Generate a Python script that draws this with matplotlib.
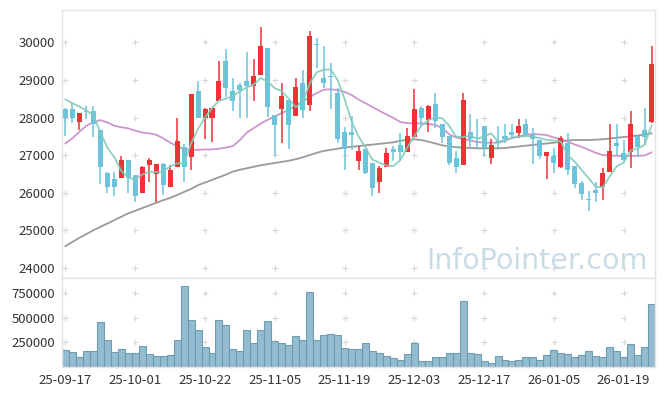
import numpy as np
import matplotlib
matplotlib.use('Agg')
import matplotlib.pyplot as plt

plt.rcParams['font.family'] = ['Noto Sans CJK KR', 'DejaVu Sans']

# trading days (yy-mm-dd), one per candle
dates = (
    ['25-09-%02d' % d for d in [17, 18, 19, 22, 23, 24, 25, 26, 29, 30]]
    + ['25-10-%02d' % d for d in [1, 2, 10, 13, 14, 15, 16, 17, 20, 21, 22, 23, 24, 27, 28, 29, 30, 31]]
    + ['25-11-%02d' % d for d in [3, 4, 5, 6, 7, 10, 11, 12, 13, 14, 17, 18, 19, 20, 21, 24, 25, 26, 27, 28]]
    + ['25-12-%02d' % d for d in [1, 2, 3, 4, 5, 8, 9, 10, 11, 12, 15, 16, 17, 18, 19, 22, 23, 24, 26, 29, 30]]
    + ['26-01-%02d' % d for d in [2, 5, 6, 7, 8, 9, 12, 13, 14, 15, 16, 19, 20, 21, 22, 23]]
)

opens = [28230, 28230, 27890, 28180, 28170, 27670, 26520, 26370, 26400, 26870,
         26470, 26000, 26740, 26500, 26760, 26160, 26690, 27210, 26960, 28710,
         28000, 28000, 28450, 29500, 28710, 28870, 28970, 28850, 29130, 29840,
         28070, 28220, 28470, 28050, 28930, 28330, 29960, 29040, 29100, 28640,
         27610, 27610, 26850, 27150, 26800, 26290, 26690, 27150, 27270, 27090,
         27490, 28250, 27930, 28360, 27830, 27510, 26920, 26740, 27610, 27450,
         27780, 26920, 27380, 27510, 27610, 27600, 27830, 27540, 27390, 26980,
         26980, 26690, 27310, 26710, 26250, 25820, 26070, 26160, 26560, 27310,
         27050, 27090, 27510, 27670, 27890]
highs = [28250, 28400, 28110, 28300, 28300, 27670, 26560, 26560, 26980, 26870,
         26470, 26720, 26930, 26760, 26800, 26740, 28000, 27300, 28630, 28970,
         28250, 28250, 29490, 29810, 29040, 28930, 29750, 29550, 30400, 29840,
         28070, 28930, 28470, 29040, 29260, 30300, 30110, 29900, 29440, 28780,
         27760, 28040, 27240, 27150, 26800, 26710, 27200, 27230, 27600, 27710,
         28750, 28310, 28330, 28660, 27830, 27510, 27120, 28640, 28100, 27950,
         27780, 27420, 27780, 27830, 27830, 27950, 27950, 27710, 27390, 27070,
         27180, 27510, 27600, 26710, 26320, 26050, 26290, 26650, 27830, 27830,
         27400, 28180, 27510, 28250, 29900]
lows = [27500, 27850, 27670, 27950, 27490, 26230, 26000, 25900, 26400, 26000,
        25740, 26000, 26290, 25760, 25940, 26150, 26690, 26290, 26600, 28000,
        27420, 27360, 28450, 28550, 28160, 28000, 28000, 28450, 29130, 28020,
        26980, 27310, 27150, 28050, 28000, 28160, 29310, 28780, 28220, 27310,
        26600, 27140, 26600, 26500, 25910, 26000, 26690, 26830, 26830, 27090,
        27450, 27800, 27620, 27710, 27310, 26740, 26520, 26740, 27180, 27180,
        26980, 26760, 27180, 27330, 27420, 27450, 27540, 26760, 26890, 26360,
        26520, 26650, 26470, 26120, 25810, 25500, 25760, 25810, 26560, 27000,
        26830, 26650, 26960, 27270, 27850]
closes = [28000, 28000, 28110, 28150, 27820, 26690, 26160, 26160, 26870, 26400,
          25900, 26680, 26870, 26760, 26210, 26600, 27380, 26690, 28630, 28000,
          28220, 28250, 28970, 28790, 28450, 28730, 28850, 29100, 29900, 28280,
          27800, 28570, 27800, 28800, 28200, 30170, 29930, 28910, 29080, 27420,
          27150, 27540, 27110, 26520, 26120, 26650, 27050, 27090, 27090, 27510,
          28220, 28000, 28310, 27910, 27490, 26800, 26690, 28470, 27420, 27420,
          27180, 27270, 27330, 27420, 27540, 27780, 27540, 27420, 26980, 27070,
          26800, 27450, 26590, 26230, 25960, 25800, 26000, 26520, 27110, 27240,
          26870, 27830, 27210, 27490, 29420]

ma5 = [28480, 28380, 28290, 28180, 28070, 27600, 27200, 26940, 26580, 26400,
       26350, 26480, 26560, 26550, 26560, 26700, 26780, 26780, 27310, 27700,
       28000, 28250, 28450, 28500, 28570, 28700, 28800, 28880, 29050, 28950,
       28780, 28700, 28500, 28280, 28400, 28900, 29200, 29270, 29280, 29000,
       28500, 27900, 27500, 27200, 26880, 26800, 26720, 26710, 26870, 27200,
       27500, 27780, 27930, 28000, 27980, 27780, 27490, 27480, 27520, 27440,
       27490, 27580, 27360, 27400, 27450, 27490, 27510, 27490, 27450, 27400,
       27390, 27360, 27000, 26820, 26600, 26380, 26160, 26140, 26430, 26700,
       26800, 27120, 27180, 27270, 27780]
ma20 = [27310, 27450, 27620, 27780, 27880, 27930, 27870, 27780, 27740, 27710,
        27650, 27600, 27580, 27540, 27450, 27330, 27240, 27160, 27140, 27140,
        27150, 27150, 27170, 27200, 27240, 27400, 27600, 27720, 27840, 27940,
        28030, 28120, 28200, 28320, 28430, 28540, 28650, 28740, 28750, 28730,
        28680, 28600, 28480, 28380, 28280, 28180, 28080, 27990, 27880, 27850,
        27850, 27840, 27830, 27800, 27720, 27550, 27470, 27430, 27390, 27350,
        27330, 27330, 27330, 27380, 27460, 27500, 27540, 27560, 27550, 27530,
        27470, 27420, 27360, 27280, 27220, 27140, 27060, 27000, 26990, 26980,
        26980, 26980, 26980, 26990, 27070]
ma60 = [24580, 24690, 24800, 24900, 25000, 25090, 25180, 25270, 25360, 25450,
        25520, 25590, 25660, 25730, 25800, 25860, 25940, 26020, 26100, 26200,
        26270, 26340, 26410, 26480, 26560, 26610, 26650, 26690, 26730, 26760,
        26790, 26820, 26850, 26890, 26940, 27000, 27060, 27110, 27140, 27170,
        27200, 27220, 27240, 27260, 27280, 27300, 27320, 27340, 27380, 27410,
        27420, 27400, 27360, 27310, 27260, 27230, 27210, 27200, 27190, 27180,
        27180, 27180, 27180, 27190, 27210, 27230, 27250, 27270, 27290, 27310,
        27330, 27360, 27390, 27400, 27400, 27400, 27410, 27420, 27440, 27460,
        27480, 27500, 27520, 27550, 27580]

volume = [177000, 157000, 106000, 167000, 160000, 454000, 280000, 157000, 188000, 147000,
          147000, 218000, 136000, 116000, 116000, 126000, 280000, 822000, 474000, 372000,
          208000, 147000, 474000, 423000, 188000, 160000, 372000, 249000, 382000, 464000,
          269000, 249000, 228000, 320000, 280000, 760000, 280000, 331000, 341000, 331000,
          198000, 188000, 188000, 249000, 160000, 140000, 116000, 95000, 75000, 136000,
          249000, 65000, 65000, 106000, 106000, 147000, 147000, 668000, 147000, 136000,
          65000, 44000, 116000, 75000, 65000, 75000, 106000, 106000, 75000, 126000,
          177000, 147000, 136000, 106000, 126000, 167000, 116000, 106000, 208000, 167000,
          106000, 239000, 126000, 208000, 638000]

price_ticks = [24000, 25000, 26000, 27000, 28000, 29000, 30000]
vol_ticks = [250000, 500000, 750000]

RED = '#ee3236'
BLUE = '#6cc3da'
GRID = '#d8d8d8'
SPINE = '#e4e4e4'

x = np.arange(len(closes))
o = np.array(opens)
c = np.array(closes)
up = c > o
body_bot = np.minimum(o, c)
body_h = np.maximum(np.abs(c - o), 25)
colors = np.where(up, RED, BLUE)

fig = plt.figure(figsize=(6.65, 3.96), dpi=100)
ax = fig.add_axes([62 / 665, 1 - 278 / 396, 593 / 665, 268 / 396])
axv = fig.add_axes([62 / 665, 1 - 367 / 396, 593 / 665, 89 / 396], sharex=ax)

xticks = x[::10]

# price panel
for xt in xticks:
    ax.scatter([xt] * len(price_ticks), price_ticks, marker='+', s=18,
               color=GRID, linewidths=0.8, zorder=0)
ax.plot(x, ma60, color='#8f8f8f', lw=1.3, alpha=0.9, zorder=1)
ax.plot(x, ma20, color='#c98ac6', lw=1.3, alpha=0.9, zorder=1)
ax.vlines(x, lows, highs, colors=colors, lw=1.1, zorder=2)
ax.bar(x, body_h, bottom=body_bot, width=0.72, color=colors, lw=0, zorder=3)
ax.plot(x, ma5, color='#83cbbd', lw=1.3, alpha=0.9, zorder=4)

# watermark
ax.text(0.988, 0.035, 'InfoPointer.com', transform=ax.transAxes, ha='right',
        va='baseline', fontsize=20.5, color='#c9dce6', family='DejaVu Sans', zorder=0)

ax.set_xlim(-0.5, len(closes) - 0.5)
ax.set_ylim(23730, 30860)
ax.set_yticks(price_ticks)
ax.set_yticklabels([str(t) for t in price_ticks])
ax.tick_params(axis='x', bottom=False, labelbottom=False)

# volume panel
for xt in xticks:
    axv.scatter([xt] * len(vol_ticks), vol_ticks, marker='+', s=18,
                color=GRID, linewidths=0.8, zorder=0)
axv.bar(x, volume, width=1.0, color='#8fb9cc', edgecolor='#6a9bb2',
        lw=0.8, alpha=0.95, zorder=2)
axv.set_ylim(0, 907000)
axv.set_yticks(vol_ticks)
axv.set_yticklabels([str(t) for t in vol_ticks])
axv.set_xticks(xticks)
axv.set_xticklabels([dates[i] for i in xticks])

for a in (ax, axv):
    for s in a.spines.values():
        s.set_color(SPINE)
        s.set_linewidth(1.0)
    a.tick_params(length=0, labelsize=9.5, colors='#333333', pad=5)

plt.savefig('out.png', dpi=100)
